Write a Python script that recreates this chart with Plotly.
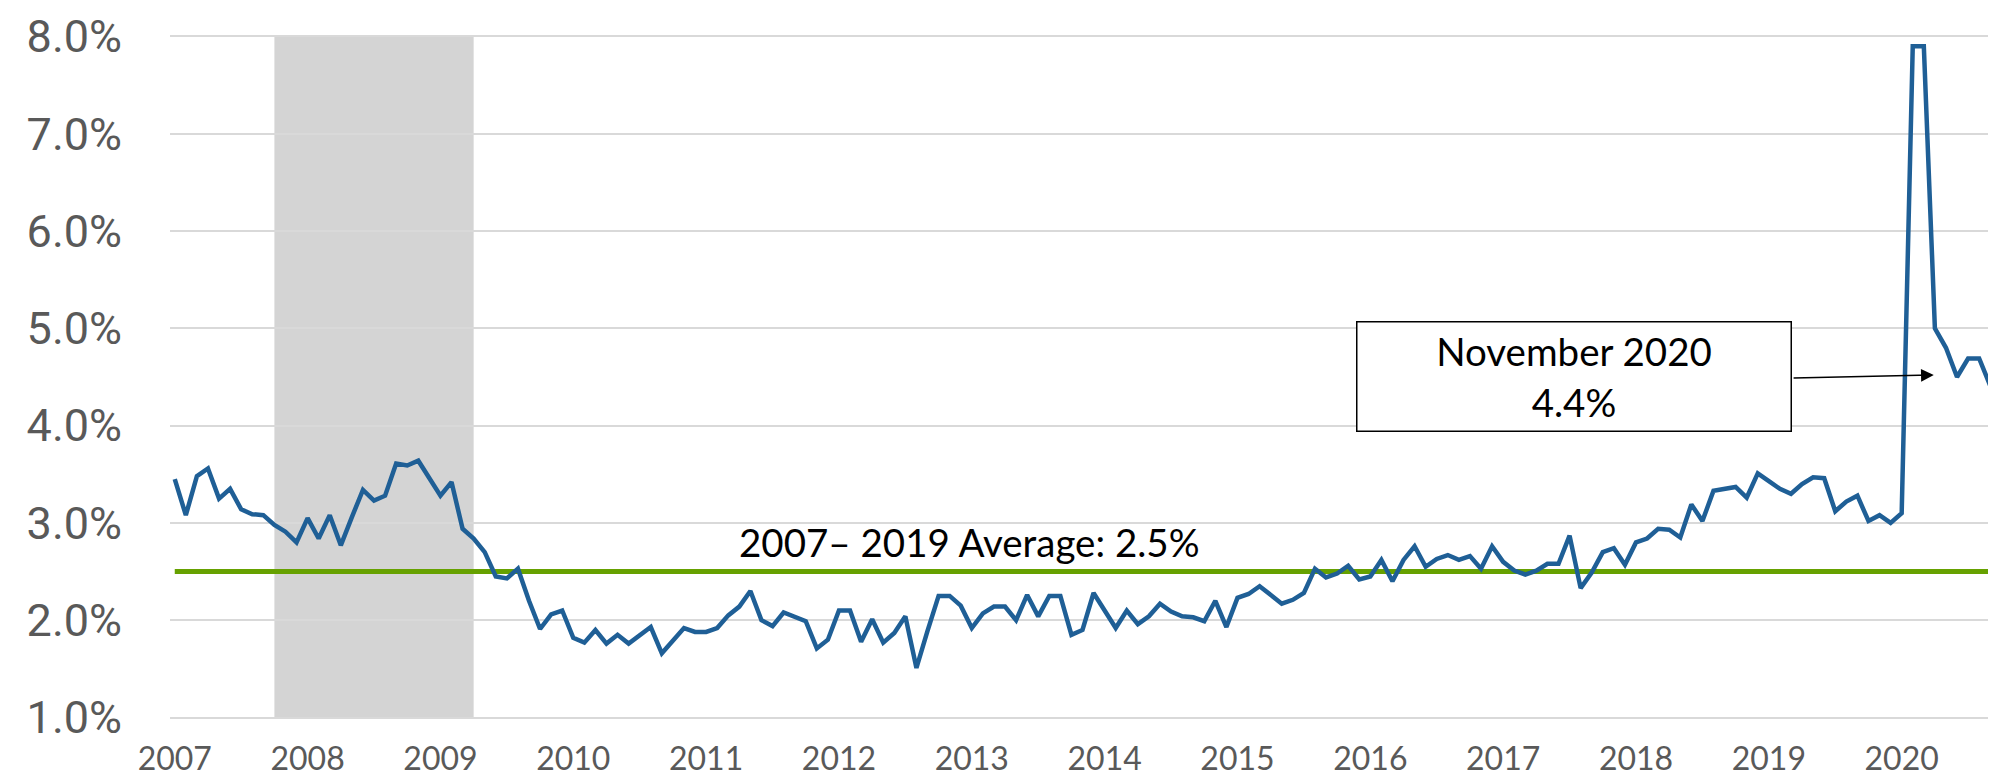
import pandas as pd
import plotly.graph_objects as go

# ---------------- data ----------------
start_month = "2007-03-01"
end_month = "2020-11-01"
months = pd.date_range(start_month, end_month, freq="MS")

values = [
    # 2007 (Mar-Dec)
    3.45, 3.08, 3.48, 3.56, 3.25, 3.35, 3.14, 3.09, 3.08, 2.98,
    # 2008
    2.91, 2.80, 3.05, 2.84, 3.08, 2.77, 3.06, 3.34, 3.23, 3.28, 3.61, 3.59,
    # 2009
    3.64, 3.45, 3.28, 3.42, 2.94, 2.84, 2.70, 2.45, 2.43, 2.53, 2.20, 1.91,
    # 2010
    2.06, 2.10, 1.82, 1.77, 1.90, 1.76, 1.85, 1.76, 1.85, 1.93, 1.66, 1.79,
    # 2011
    1.92, 1.88, 1.88, 1.92, 2.05, 2.14, 2.30, 2.00, 1.94, 2.08, 2.03, 1.99,
    # 2012
    1.71, 1.80, 2.10, 2.10, 1.78, 2.01, 1.77, 1.87, 2.04, 1.51, 1.89, 2.25,
    # 2013
    2.25, 2.15, 1.92, 2.07, 2.14, 2.14, 2.00, 2.26, 2.04, 2.25, 2.25, 1.85,
    # 2014
    1.90, 2.28, 2.10, 1.92, 2.10, 1.96, 2.04, 2.17, 2.09, 2.04, 2.03, 1.99,
    # 2015
    2.20, 1.93, 2.23, 2.27, 2.35, 2.26, 2.17, 2.21, 2.28, 2.53, 2.44, 2.48,
    # 2016
    2.56, 2.42, 2.45, 2.62, 2.40, 2.62, 2.76, 2.55, 2.63, 2.67, 2.62, 2.66,
    # 2017
    2.53, 2.76, 2.60, 2.51, 2.47, 2.51, 2.58, 2.58, 2.87, 2.33, 2.49, 2.70,
    # 2018
    2.74, 2.57, 2.80, 2.84, 2.94, 2.93, 2.85, 3.19, 3.02, 3.33, 3.35, 3.37,
    # 2019
    3.26, 3.51, 3.43, 3.35, 3.30, 3.40, 3.47, 3.46, 3.12, 3.22, 3.28, 3.02,
    # 2020 (Jan-Nov)
    3.08, 3.00, 3.10, 7.90, 7.90, 5.00, 4.80, 4.50, 4.69, 4.69, 4.41,
]
assert len(values) == len(months)

average_value = 2.5
average_label = "2007\u2013 2019 Average: 2.5%"
callout_label = "November 2020<br>4.4%"

recession_start = "2007-12-01"
recession_end = "2009-06-01"

year_labels = [str(y) for y in range(2007, 2021)]
y_ticks = [1, 2, 3, 4, 5, 6, 7, 8]
y_tick_labels = [f"{v:.1f}%" for v in y_ticks]

# ---------------- derived ----------------
idx = list(range(len(months)))
month_keys = [m.strftime("%Y-%m-%d") for m in months]
rec_i0 = month_keys.index(recession_start)
rec_i1 = month_keys.index(recession_end)
tick_idx = [month_keys.index(f"{y}-03-01") for y in year_labels]

BLUE = "#1F5F96"
GREEN = "#66A100"
GRID = "#D9D9D9"
GRAY_TXT = "#595959"

fig = go.Figure()

fig.add_trace(go.Scatter(
    x=idx, y=[average_value] * len(idx), mode="lines",
    line=dict(color=GREEN, width=5), hoverinfo="skip", showlegend=False,
))
fig.add_trace(go.Scatter(
    x=idx, y=values, mode="lines",
    line=dict(color=BLUE, width=4.5), showlegend=False,
))

fig.add_shape(
    type="rect", xref="x", yref="y",
    x0=rec_i0, x1=rec_i1, y0=y_ticks[0], y1=y_ticks[-1],
    fillcolor="#D4D4D4", line=dict(width=0), layer="below",
)

# average label
fig.add_annotation(
    x=71.75, y=2.80, xref="x", yref="y", text=average_label, showarrow=False,
    font=dict(family="Lato", size=38.5, color="black"),
)

# callout box
fig.add_annotation(
    x=126.4, y=4.505, xref="x", yref="y", text=callout_label, showarrow=False,
    font=dict(family="Lato", size=38.5, color="black"),
    bgcolor="white", bordercolor="black", borderwidth=1.5, borderpad=0,
    width=433, height=108, align="center",
)
# arrow
fig.add_annotation(
    x=158.9, y=4.52, xref="x", yref="y",
    ax=146.1, ay=4.49, axref="x", ayref="y",
    text="", showarrow=True, arrowhead=2, arrowsize=1.7, arrowwidth=1.5,
    arrowcolor="black",
)

fig.update_layout(
    width=1996, height=780,
    margin=dict(l=162, r=9, t=27, b=69),
    paper_bgcolor="white", plot_bgcolor="white",
    showlegend=False,
)
fig.update_xaxes(
    range=[-0.43, 164.43], tickmode="array", tickvals=tick_idx, ticktext=year_labels,
    showgrid=False, zeroline=False, showline=False, automargin=False,
    ticks="", tickfont=dict(family="Lato", size=32, color=GRAY_TXT),
    ticklabelstandoff=18,
)
fig.update_yaxes(
    range=[0.985, 8.015], tickmode="array", tickvals=y_ticks, ticktext=y_tick_labels,
    showgrid=True, gridcolor=GRID, gridwidth=1.5, zeroline=False, showline=False,
    automargin=False,
    ticks="", tickfont=dict(family="Roboto", size=45, color=GRAY_TXT),
    ticklabelstandoff=47, ticklabeloverflow="allow",
)

fig.write_html("out.html")
